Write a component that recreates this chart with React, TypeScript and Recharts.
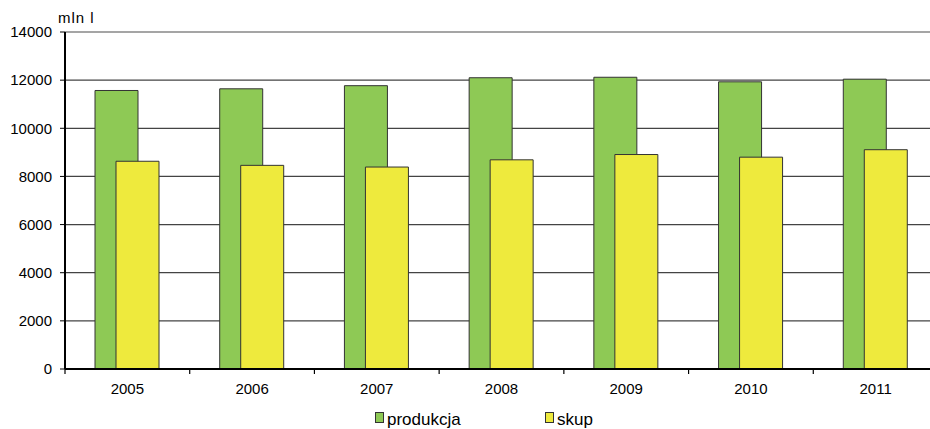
import { ComposedChart, Bar, XAxis, YAxis, CartesianGrid, ReferenceLine } from "recharts"

const years = ["2005", "2006", "2007", "2008", "2009", "2010", "2011"]
const produkcja = [11570, 11640, 11770, 12100, 12120, 11930, 12040]
const skup = [8630, 8460, 8390, 8690, 8910, 8800, 9110]
const yTicks = [0, 2000, 4000, 6000, 8000, 10000, 12000, 14000]

const GREEN = "#8ec955"
const YELLOW = "#eeea3d"
const font = "'Liberation Sans', Arial, sans-serif"
const LABEL_GAP = 14

const data = years.map((y, i) => ({ year: y, produkcja: produkcja[i], skup: skup[i] }))

// category label, plus a short tick on the left edge of each band (Excel style)
function YearTick(props: any) {
  const { x, y, payload } = props
  const axisY = y - LABEL_GAP
  const edge = x - (payload?.offset ?? 0)
  return (
    <g>
      <line x1={edge} x2={edge} y1={axisY} y2={axisY + 5} stroke="#000" strokeWidth={1.2} />
      <text x={x} y={y} dy="0.71em" textAnchor="middle" fontSize={15} fill="#000" fontFamily={font}>
        {payload.value}
      </text>
    </g>
  )
}

function LegendItem({ x, color, label }: { x: number; color: string; label: string }) {
  return (
    <>
      <div style={{ position: "absolute", left: x, top: 412, width: 7, height: 9, background: color, border: "1px solid #333" }} />
      <div style={{ position: "absolute", left: x + 12, top: 411, fontSize: 17, lineHeight: "17px", color: "#000", whiteSpace: "nowrap" }}>{label}</div>
    </>
  )
}

export default function App() {
  return (
    <div style={{ position: "fixed", left: 0, top: 0, width: 930, height: 429, overflow: "hidden", background: "#fff", fontFamily: font }}>
      <div style={{ position: "absolute", left: 58, top: 9, fontSize: 15, letterSpacing: 1, color: "#000" }}>mln l</div>
      <ComposedChart width={945} height={429} data={data} margin={{ top: 32, right: 7, left: 0, bottom: 30 }} barSize={43} barGap={-22}>
        <CartesianGrid vertical={false} stroke="#444" strokeWidth={1.2} />
        <ReferenceLine y={14000} stroke="#aaa" strokeWidth={1.2} ifOverflow="visible" />
        <XAxis
          dataKey="year"
          height={30}
          interval={0}
          axisLine={{ stroke: "#000", strokeWidth: 2 }}
          tickLine={false}
          tickSize={0}
          tickMargin={LABEL_GAP}
          tick={<YearTick />}
        />
        <YAxis
          domain={[0, 14000]}
          ticks={yTicks}
          width={65}
          interval={0}
          axisLine={{ stroke: "#000", strokeWidth: 2 }}
          tickLine={{ stroke: "#000" }}
          tickSize={5}
          tickMargin={8}
          tick={{ fontSize: 15, fill: "#000", fontFamily: font }}
        />
        <Bar dataKey="produkcja" fill={GREEN} stroke="#333" strokeWidth={1} isAnimationActive={false} />
        <Bar dataKey="skup" fill={YELLOW} stroke="#333" strokeWidth={1} isAnimationActive={false} />
      </ComposedChart>
      <LegendItem x={375} color={GREEN} label="produkcja" />
      <LegendItem x={545} color={YELLOW} label="skup" />
    </div>
  )
}
